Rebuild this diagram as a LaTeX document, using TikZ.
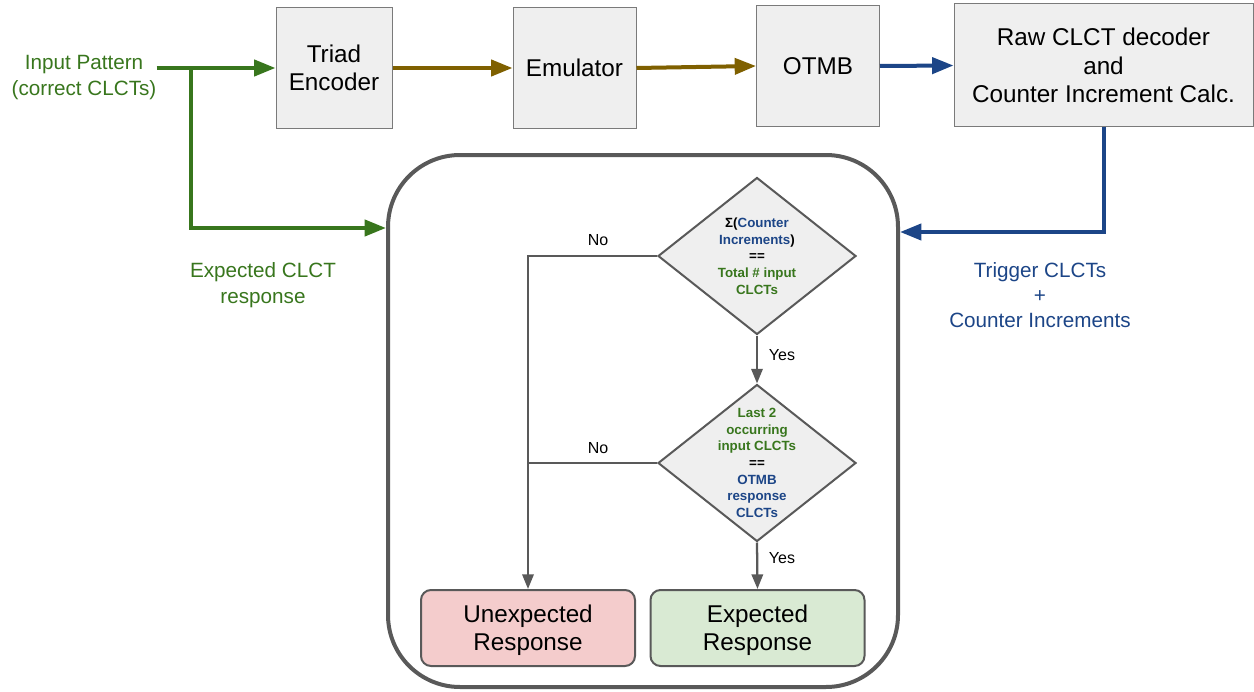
\documentclass[tikz,border=0pt]{standalone}
\usepackage{fontspec}
\setmainfont{Liberation Sans}
\setsansfont{Liberation Sans}
\usetikzlibrary{positioning, arrows.meta, shapes.geometric}
\definecolor{ingreen}{HTML}{38761D}
\definecolor{trigblue}{HTML}{1C4587}
\definecolor{emubrown}{HTML}{7F6000}
\definecolor{flowgray}{HTML}{595959}
\definecolor{boxfill}{HTML}{EFEFEF}
\definecolor{badfill}{HTML}{F4CCCC}
\definecolor{goodfill}{HTML}{D9EAD3}

\begin{document}
\begin{tikzpicture}[x=0.75pt,y=-0.75pt,font=\sffamily,
  stage/.style={draw=flowgray!80, line width=0.75pt, fill=boxfill,
    align=center, inner sep=0pt, minimum height=90.75pt,
    font=\fontsize{18.2}{21.2}\selectfont},
  result/.style={draw=flowgray, line width=1.5pt, rounded corners=7.5pt,
    align=center, inner sep=0pt, minimum width=160.5pt, minimum height=57pt,
    text depth=0pt, font=\fontsize{18.2}{21}\selectfont},
  check/.style={diamond, draw=flowgray, line width=1.5pt, fill=boxfill,
    inner sep=0pt, minimum width=148.5pt, minimum height=117.75pt},
  checktext/.style={align=center, inner sep=0pt,
    font=\fontsize{10}{12.5}\selectfont\bfseries},
  lbl/.style={align=center, inner sep=0pt, text depth=0pt,
    font=\fontsize{15.5}{19.5}\selectfont},
  yesno/.style={inner sep=0pt, font=\fontsize{12}{14}\selectfont},
  bigarrow/.style={line width=3pt, -{Triangle[length=16pt,width=12pt]}},
  flow/.style={draw=flowgray, line width=1.7pt, -{Triangle[length=11pt,width=8.5pt]}}]

  % top chain
  \node[stage, minimum width=87pt] (tri) at (334,68) {Triad\\Encoder};
  \node[stage, minimum width=92.25pt] (emu) at (574.5,68) {Emulator};
  \node[stage, minimum width=92.25pt] (otmb) at (818,66) {OTMB};
  \node[stage, minimum width=224.25pt, minimum height=92.25pt] (raw) at (1103.5,65.5)
    {Raw CLCT decoder\\and\\Counter Increment Calc.};

  % labels
  \node[lbl, text=ingreen] (inp) at (84,75) {Input Pattern\\(correct CLCTs)};
  \node[lbl, text=ingreen] (exl) at (263,283) {Expected CLCT\\response};
  \node[lbl, text=trigblue, font=\fontsize{15.5}{18.75}\selectfont] (trl) at (1040,295)
    {Trigger CLCTs\\+\\Counter Increments};

  % checker frame
  \node[draw=flowgray, line width=3pt, rounded corners=54pt,
    minimum width=382.5pt, minimum height=399pt] (chk) at (643,421) {};
  \coordinate (split) at (191,68);
  \coordinate (exin) at (386,228);
  \coordinate (trin) at (900,232);

  % arrows into and along the chain
  \draw[bigarrow, ingreen] (inp.east |- tri.west) -- (tri.west);
  \draw[bigarrow, ingreen] (split) |- (exin);
  \draw[bigarrow, emubrown] (tri.east) -- (emu.west);
  \draw[bigarrow, emubrown] (emu.east) -- (otmb.west);
  \draw[bigarrow, trigblue] (otmb.east) -- (raw.west);
  \draw[bigarrow, trigblue] (raw.south) |- (trin);

  % flow chart
  \node[check] (d1) at (757,256) {};
  \node[checktext] (t1) at (d1) {Σ(\textcolor{trigblue}{Counter}\\
    \textcolor{trigblue}{Increments})\\==\\
    \textcolor{ingreen}{Total \# input}\\\textcolor{ingreen}{CLCTs}};
  \node[check] (d2) at (757,463) {};
  \node[checktext] (t2) at (d2) {\textcolor{ingreen}{Last 2}\\
    \textcolor{ingreen}{occurring}\\\textcolor{ingreen}{input CLCTs}\\==\\
    \textcolor{trigblue}{OTMB}\\\textcolor{trigblue}{response}\\
    \textcolor{trigblue}{CLCTs}};
  \node[result, fill=badfill] (bad) at (528,628) {Unexpected\\Response};
  \node[result, fill=goodfill] (good) at (757.5,628) {Expected\\Response};

  \draw[flow] (d1.south) -- (d2.north);
  \draw[flow] (d1.west) -| (bad.north);
  \draw[flow, -] (d2.west) -- (d2.west -| bad.north);
  \draw[flow] (d2.south) -- (good.north);

  \node[yesno] (no1) at (598,240) {No};
  \node[yesno] (no2) at (598,448) {No};
  \node[yesno] (yes1) at (782,355) {Yes};
  \node[yesno] (yes2) at (782,558) {Yes};

  \useasboundingbox (0,0) rectangle (1254,692);
\end{tikzpicture}
\end{document}
